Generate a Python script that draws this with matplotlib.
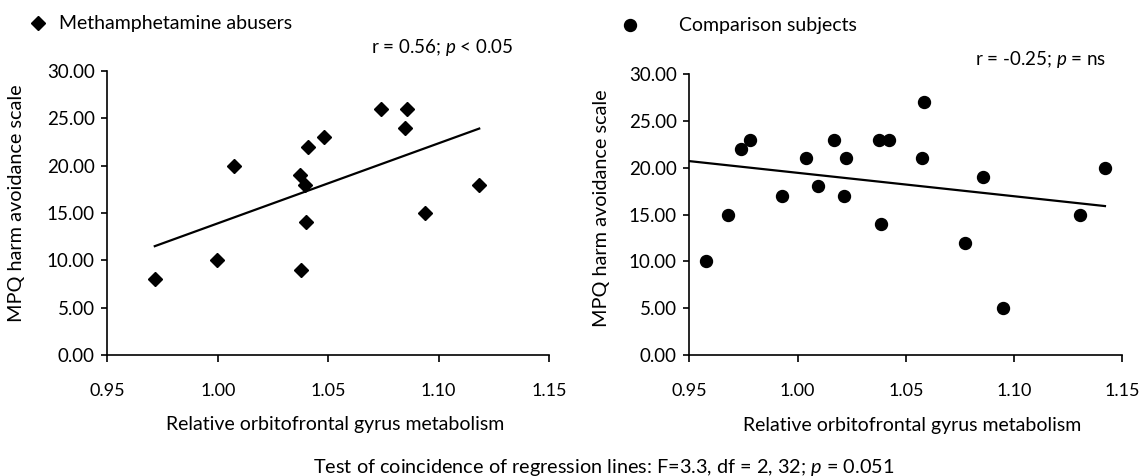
import numpy as np
import matplotlib
matplotlib.use("Agg")
import matplotlib.pyplot as plt

plt.rcParams['font.family'] = ['Lato', 'DejaVu Sans']
plt.rcParams['mathtext.fontset'] = 'custom'
plt.rcParams['mathtext.it'] = 'Lato:italic'
plt.rcParams['mathtext.rm'] = 'Lato'

# methamphetamine abusers
meth_x = [0.9715, 0.9998, 1.0072, 1.0374, 1.0397, 1.0408, 1.0401, 1.0375,
          1.0483, 1.0738, 1.0859, 1.0847, 1.0937, 1.1184]
meth_y = [8, 10, 20, 19, 18, 22, 14, 9, 23, 26, 26, 24, 15, 18]

# comparison subjects
comp_x = [0.9577, 0.9680, 0.9739, 0.9780, 0.9928, 1.0040, 1.0092, 1.0170,
          1.0212, 1.0225, 1.0377, 1.0421, 1.0387, 1.0582, 1.0575, 1.0772,
          1.0856, 1.0948, 1.1305, 1.1419]
comp_y = [10, 15, 22, 23, 17, 21, 18, 23, 17, 21, 23, 23, 14, 27, 21, 12,
          19, 5, 15, 20]
# trend line of comparison group as drawn in the figure (end values)
comp_fit_x = [0.95, 1.1419]
comp_fit_y = [20.7, 15.9]

x_ticks = [0.95, 1.00, 1.05, 1.10, 1.15]
y_ticks = [0, 5, 10, 15, 20, 25, 30]

W, H = 1143, 476
fig = plt.figure(figsize=(W / 100, H / 100), dpi=100)

ax1 = fig.add_axes([107.3 / W, 1 - 355.3 / H, 441.7 / W, 284.6 / H])
ax2 = fig.add_axes([689.3 / W, 1 - 355 / H, 433.2 / W, 281 / H])


def style_axis(ax):
    ax.set_xlim(0.95, 1.15)
    ax.set_ylim(0, 30)
    ax.set_xticks(x_ticks)
    ax.set_xticklabels([f"{t:.2f}" for t in x_ticks])
    ax.set_yticks(y_ticks)
    ax.set_yticklabels([f"{t:.2f}" for t in y_ticks])
    for s in ['top', 'right']:
        ax.spines[s].set_visible(False)
    for s in ['left', 'bottom']:
        ax.spines[s].set_linewidth(1.2)
    ax.tick_params(axis='x', direction='out', length=5, width=1.2, pad=15, labelsize=13)
    ax.tick_params(axis='y', direction='out', length=4, width=1.2, pad=5, labelsize=13.5)
    ax.set_ylabel('MPQ harm avoidance scale', fontsize=14.3)
    ax.set_xlabel('Relative orbitofrontal gyrus metabolism', fontsize=14)
    ax.patch.set_visible(False)


style_axis(ax1)
style_axis(ax2)

ax1.plot(meth_x, meth_y, 'D', color='black', markersize=7, linestyle='none',
         label='Methamphetamine abusers', clip_on=False)
b1 = np.polyfit(meth_x, meth_y, 1)
fx1 = np.array([min(meth_x), max(meth_x)])
ax1.plot(fx1, np.polyval(b1, fx1), color='black', linewidth=1.6)

ax2.plot(comp_x, comp_y, 'o', color='black', markersize=8.6, linestyle='none',
         label='Comparison subjects', clip_on=False)
ax2.plot(comp_fit_x, comp_fit_y, color='black', linewidth=1.6)

ax1.yaxis.set_label_coords(-0.186, 0.535)
ax2.yaxis.set_label_coords(-0.183, 0.523)
ax1.xaxis.set_label_coords(0.515, -0.215)
ax2.xaxis.set_label_coords(0.514, -0.22)

ax1.legend(loc='center left', bbox_to_anchor=(28.3 / W, 1 - 24 / H),
           bbox_transform=fig.transFigure, frameon=False, fontsize=14,
           handlelength=1, handletextpad=0.58, borderpad=0, borderaxespad=0)
ax2.legend(loc='center left', bbox_to_anchor=(620.3 / W, 1 - 26 / H),
           bbox_transform=fig.transFigure, frameon=False, fontsize=14,
           handlelength=1, handletextpad=2.03, borderpad=0, borderaxespad=0)

fig.text(513 / W, 1 - 48 / H, r'r = 0.56; $\it{p}$ < 0.05', ha='right',
         va='center', fontsize=13.5)
fig.text(1106 / W, 1 - 59 / H, r'r = -0.25; $\it{p}$ = ns', ha='right',
         va='center', fontsize=13.5)
fig.text(604 / W, 1 - 467 / H,
         r'Test of coincidence of regression lines: F=3.3, df = 2, 32; $\it{p}$ = 0.051',
         ha='center', va='center', fontsize=14.3)

fig.savefig('out.png', dpi=100)
